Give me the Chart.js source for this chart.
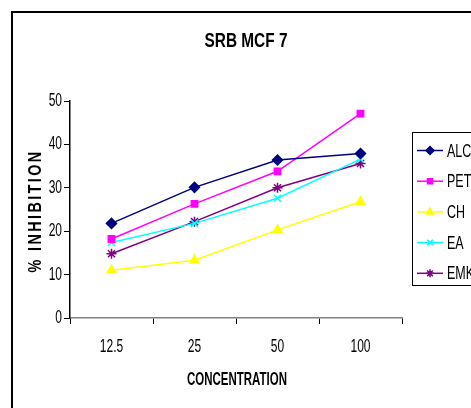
<!DOCTYPE html>
<html>
<head>
<meta charset="utf-8">
<script src="https://cdn.jsdelivr.net/npm/chart.js@4/dist/chart.umd.min.js"></script>
<style>
  html, body { margin: 0; padding: 0; background: #fff; }
  #wrap { width: 471px; height: 408px; }
</style>
</head>
<body>
<div id="wrap"><canvas id="srb"></canvas></div>
<script>
const concentrations = ['12.5', '25', '50', '100'];
const alc = [21.8, 30.1, 36.4, 37.9];
const pet = [18.2, 26.3, 33.8, 47.1];
const ch = [11.0, 13.3, 20.3, 26.8];
const ea = [17.4, 21.8, 27.6, 36.6];
const emk = [14.8, 22.2, 30.0, 35.6];
const seriesNames = ['ALC', 'PET', 'CH', 'EA', 'EMK'];
const yTicks = [0, 10, 20, 30, 40, 50];

const FONT = "'Liberation Sans', Arial, sans-serif";

function series(label, data, color, style, size) {
    return {
        label: label,
        data: data,
        borderColor: color,
        backgroundColor: color,
        pointBorderColor: color,
        pointBackgroundColor: color,
        pointStyle: style,
        pointRadius: size,
        pointBorderWidth: 1.5,
        borderWidth: 1.5,
        tension: 0
    };
}

// excel text in the picture is tall and narrow, so stretch it vertically
function tallText(ctx, text, x, y, font, sy) {
    ctx.save();
    ctx.translate(x, y);
    ctx.scale(1, sy);
    ctx.font = font;
    ctx.fillText(text, 0, 0);
    ctx.restore();
}

// frame, titles, tick labels and boxed legend like the excel original
const extras = {
    id: 'extras',
    afterDraw(chart) {
        const ctx = chart.ctx;
        const xs = chart.scales.x;
        const ys = chart.scales.y;
        ctx.save();
        ctx.strokeStyle = '#000';
        ctx.lineWidth = 2;
        ctx.strokeRect(12, 12, 480, 420);

        ctx.fillStyle = '#000';
        ctx.textAlign = 'center';
        ctx.textBaseline = 'middle';
        tallText(ctx, 'SRB MCF 7', 246, 41, 'bold 15.4px ' + FONT, 1.35);
        tallText(ctx, 'CONCENTRATION', 237, 380, 'bold 11.5px ' + FONT, 1.55);

        // tick labels at the scale's own positions
        concentrations.forEach(function(lbl, i) {
            tallText(ctx, lbl, xs.getPixelForTick(i), 347, '12px ' + FONT, 1.5);
        });
        ctx.textAlign = 'right';
        yTicks.forEach(function(v) {
            tallText(ctx, String(v), 62, ys.getPixelForValue(v), '12px ' + FONT, 1.5);
        });

        ctx.save();
        ctx.textAlign = 'center';
        ctx.translate(36, 211);
        ctx.rotate(-Math.PI / 2);
        ctx.scale(0.8, 1);
        ctx.font = 'bold 18px ' + FONT;
        ctx.letterSpacing = '3px';
        ctx.fillText('% INHIBITION', 0, 0);
        ctx.restore();

        // legend
        ctx.lineWidth = 1;
        ctx.strokeStyle = '#000';
        ctx.strokeRect(412.5, 132.5, 80, 153);
        ctx.textAlign = 'left';
        chart.data.datasets.forEach(function(ds, i) {
            const y = 150.5 + i * 30.7;
            ctx.strokeStyle = ds.borderColor;
            ctx.lineWidth = 1.5;
            ctx.beginPath();
            ctx.moveTo(417, y);
            ctx.lineTo(443, y);
            ctx.stroke();
            ctx.fillStyle = ds.backgroundColor;
            Chart.helpers.drawPoint(ctx, {
                pointStyle: ds.pointStyle,
                radius: ds.pointRadius - 1,
                rotation: 0,
                borderWidth: 1.5
            }, 430, y);
            ctx.fillStyle = '#000';
            tallText(ctx, ds.label, 447, y + 1, '12.5px ' + FONT, 1.5);
        });
        ctx.restore();
    }
};

new Chart('srb', {
    type: 'line',
    data: {
        labels: concentrations,
        datasets: [
            series(seriesNames[0], alc, '#000080', 'rectRot', 5),
            series(seriesNames[1], pet, '#ff00ff', 'rect', 4.5),
            series(seriesNames[2], ch, '#ffff00', 'triangle', 5),
            series(seriesNames[3], ea, '#00ffff', 'crossRot', 5),
            series(seriesNames[4], emk, '#800080', 'star', 5)
        ]
    },
    options: {
        responsive: true,
        maintainAspectRatio: false,
        animation: false,
        layout: { padding: { top: 101, right: 69, left: 0, bottom: 0 } },
        plugins: {
            legend: { display: false },
            title: { display: false },
            tooltip: { enabled: false }
        },
        scales: {
            x: {
                offset: true,
                grid: {
                    offset: true,
                    drawOnChartArea: false,
                    drawTicks: true,
                    tickLength: 6,
                    color: '#000'
                },
                border: { color: '#808080', width: 1.5 },
                ticks: { display: false },
                afterFit(scale) { scale.height = 90; }
            },
            y: {
                min: 0,
                max: 50,
                afterBuildTicks(scale) {
                    scale.ticks = yTicks.map(function(v) { return { value: v }; });
                },
                grid: {
                    drawOnChartArea: false,
                    tickLength: 6,
                    color: '#000'
                },
                border: { color: '#000', width: 1.5 },
                ticks: { display: false },
                afterFit(scale) { scale.width = 70; }
            }
        }
    },
    plugins: [extras]
});
</script>
</body>
</html>
